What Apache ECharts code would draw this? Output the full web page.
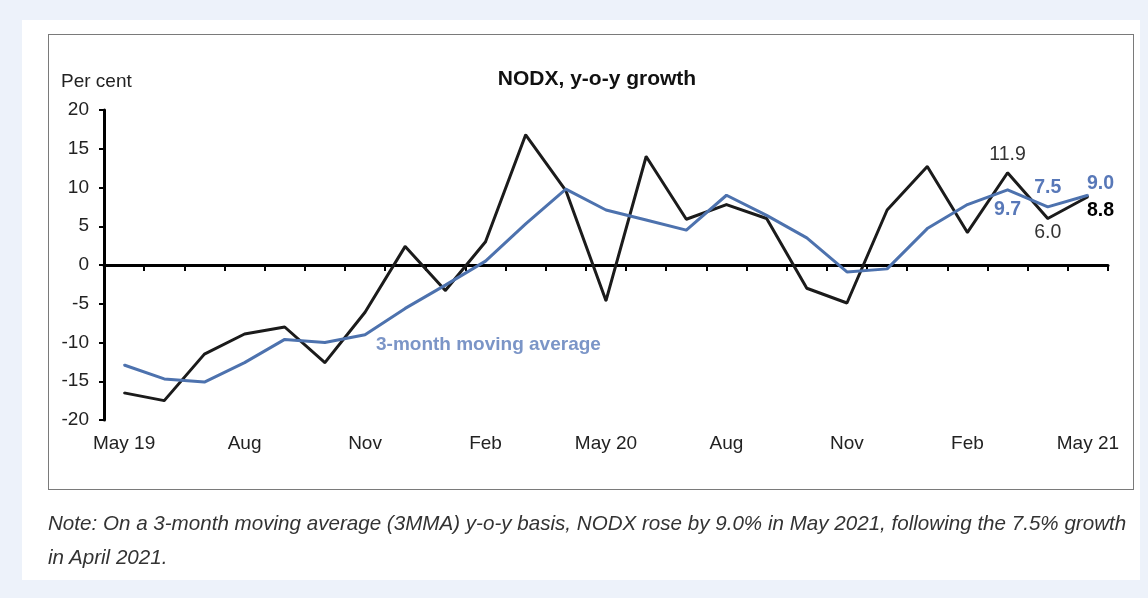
<!DOCTYPE html>
<html>
<head>
<meta charset="utf-8">
<title>NODX, y-o-y growth</title>
<script src="https://cdn.jsdelivr.net/npm/echarts@6/dist/echarts.min.js"></script>
<style>
	html, body { margin: 0; padding: 0; background: #edf2fa; }
	#panel { position: absolute; left: 22px; top: 20px; width: 1118px; height: 560px; background: #fff; }
	#box { position: absolute; left: 48px; top: 34px; width: 1084px; height: 454px; border: 1px solid #7a7a7a; }
	#chart { position: absolute; left: 0; top: 0; width: 1148px; height: 598px; }
	#note {
		position: absolute; left: 48px; top: 506px; width: 1095px;
		font-family: 'Liberation Sans', Arial, sans-serif; font-style: italic;
		font-size: 20.6px; line-height: 34px; color: #333; white-space: nowrap;
	}
</style>
</head>
<body>
<div id="panel"></div>
<div id="box"></div>
<div id="chart"></div>
<div id="note">Note: On a 3-month moving average (3MMA) y-o-y basis, NODX rose by 9.0% in May 2021, following the 7.5% growth<br>in April 2021.</div>

<script>
// 月份 (May 2019 - May 2021)
const categories = ['May 19', 'Jun', 'Jul', 'Aug', 'Sep', 'Oct', 'Nov', 'Dec', 'Jan', 'Feb', 'Mar', 'Apr',
	'May 20', 'Jun', 'Jul', 'Aug', 'Sep', 'Oct', 'Nov', 'Dec', 'Jan', 'Feb', 'Mar', 'Apr', 'May 21'];

// NODX y-o-y growth, per cent
const nodx = [-16.5, -17.5, -11.5, -8.9, -8.0, -12.6, -6.1, 2.4, -3.3, 3.0, 16.8, 9.6,
	-4.6, 14.0, 5.9, 7.8, 6.0, -3.0, -4.9, 7.1, 12.7, 4.2, 11.9, 6.0, 8.8];

// 3-month moving average
const mma = [-12.9, -14.7, -15.1, -12.6, -9.6, -10.0, -9.0, -5.6, -2.6, 0.5, 5.3, 9.8,
	7.1, 5.8, 4.5, 9.0, 6.4, 3.5, -0.9, -0.5, 4.7, 7.8, 9.7, 7.5, 9.0];

const yTicks = { min: -20, max: 20, interval: 5 };

const FONT = "'Liberation Sans', Arial, sans-serif";
const BLACK = '#1b1b1b';
const BLUE = '#4d72ae';
const BLUE_TEXT = '#5878b8';

// 标注 (index -> label style)
const nodxLabels = {
	22: { position: 'top', distance: 7, color: '#333', fontWeight: 'normal' },
	23: { position: 'bottom', distance: 3, color: '#333', fontWeight: 'normal' },
	24: { position: 'right', distance: 0, offset: [-2, 14], color: '#000', fontWeight: 'bold' },
};
const mmaLabels = {
	22: { position: 'bottom', distance: 9, color: BLUE_TEXT, fontWeight: 'bold' },
	23: { position: 'top', distance: 8, color: BLUE_TEXT, fontWeight: 'bold' },
	24: { position: 'right', distance: 0, offset: [-2, -12], color: BLUE_TEXT, fontWeight: 'bold' },
};

const toData = (values, labels) => values.map((v, i) => {
	if (!labels[i]) return v;
	return {
		value: v,
		label: Object.assign({ show: true, fontSize: 19.5, fontFamily: FONT, formatter: (p) => p.value.toFixed(1) }, labels[i]),
	};
});

const chart = echarts.init(document.getElementById('chart'), null, { renderer: 'canvas' });

const option = {
	animation: false,
	grid: { left: 104, top: 110, width: 1004, height: 310, containLabel: false },
	title: {
		text: 'NODX, y-o-y growth',
		left: 592,
		top: 64,
		textAlign: 'center',
		textStyle: { fontFamily: FONT, fontSize: 21, fontWeight: 'bold', color: '#111' },
	},
	graphic: [
		{
			type: 'text', left: 61, top: 72,
			style: { text: 'Per cent', font: `19px ${FONT}`, fill: '#222' },
		},
		{
			type: 'text', left: 376, top: 335,
			style: { text: '3-month moving average', font: `bold 19px ${FONT}`, fill: '#7b95c7' },
		},
	],
	xAxis: [
		{
			// 零线 + 刻度
			type: 'category',
			data: categories,
			boundaryGap: true,
			axisLine: { onZero: true, lineStyle: { color: '#000', width: 3 } },
			axisTick: { show: true, interval: 0, length: 6, lineStyle: { color: '#000', width: 2 } },
			axisLabel: { show: false },
			splitLine: { show: false },
		},
		{
			// 底部标签
			type: 'category',
			data: categories,
			position: 'bottom',
			boundaryGap: true,
			axisLine: { show: false, onZero: false },
			axisTick: { show: false },
			axisLabel: { interval: 2, margin: 14, fontSize: 19, fontFamily: FONT, color: '#222' },
		},
	],
	yAxis: {
		type: 'value',
		min: yTicks.min,
		max: yTicks.max,
		interval: yTicks.interval,
		axisLine: { show: true, lineStyle: { color: '#000', width: 3 } },
		axisTick: { show: true, length: 5, lineStyle: { color: '#000', width: 2 } },
		axisLabel: { margin: 15, fontSize: 19, fontFamily: FONT, color: '#222' },
		splitLine: { show: false },
	},
	series: [
		{
			name: 'NODX',
			type: 'line',
			data: toData(nodx, nodxLabels),
			symbol: 'circle',
			symbolSize: 2,
			showSymbol: true,
			showAllSymbol: true,
			lineStyle: { color: BLACK, width: 3 },
			itemStyle: { color: BLACK },
			z: 3,
		},
		{
			name: '3-month moving average',
			type: 'line',
			data: toData(mma, mmaLabels),
			symbol: 'circle',
			symbolSize: 2,
			showSymbol: true,
			showAllSymbol: true,
			lineStyle: { color: BLUE, width: 3 },
			itemStyle: { color: BLUE },
			z: 4,
		},
	],
};

chart.setOption(option);
</script>
</body>
</html>
